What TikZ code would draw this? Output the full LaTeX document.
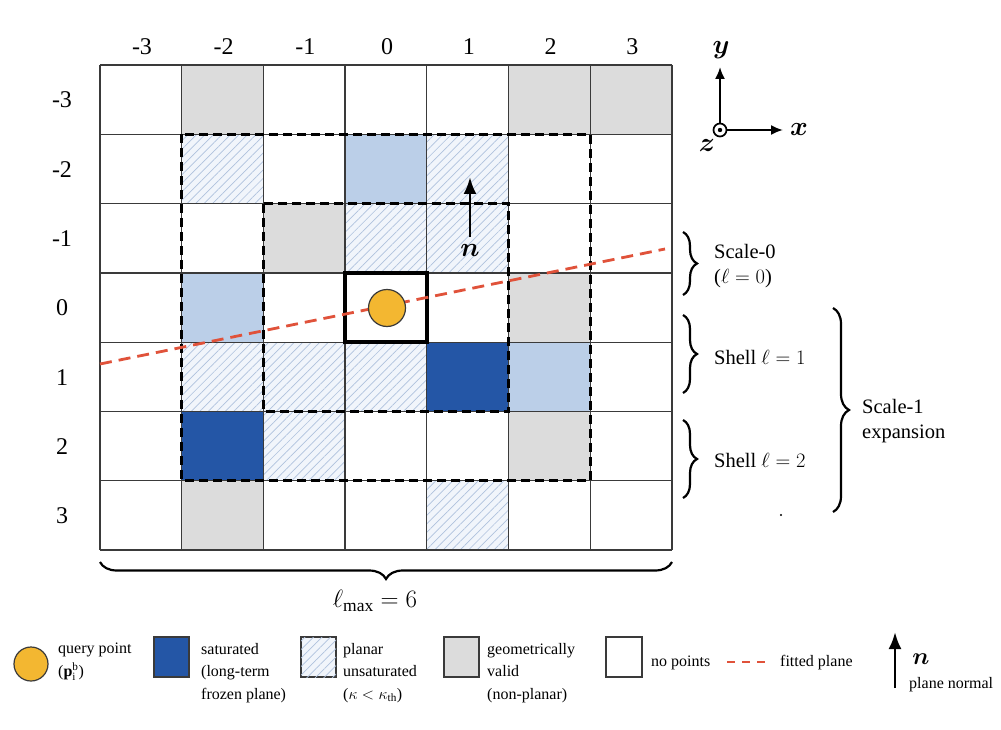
\documentclass[tikz,border=0pt]{standalone}
\usepackage{fix-cm}
\usepackage{amsmath,amssymb}
\usepackage{fontspec}
\setmainfont{Liberation Serif}
\usetikzlibrary{arrows.meta,patterns.meta,decorations.pathreplacing}
\definecolor{validc}{HTML}{DCDCDC}
\definecolor{lightc}{HTML}{BBCFE8}
\definecolor{satc}{HTML}{2456A6}
\definecolor{hatchbg}{HTML}{F1F5FB}
\definecolor{hatchln}{HTML}{AFC2DD}
\definecolor{queryc}{HTML}{F3B731}
\definecolor{fitc}{HTML}{E0523A}
\definecolor{gridc}{HTML}{3A3A3A}
\tikzset{
  hatched/.style={fill=hatchbg, postaction={pattern={Lines[angle=45,distance=6pt,line width=0.7pt]}, pattern color=hatchln}},
  gridline/.style={draw=gridc, line width=1.3pt},
  dashbox/.style={draw=black, line width=2.8pt, dash pattern=on 9pt off 5pt},
  fitline/.style={draw=fitc, line width=2.8pt, dash pattern=on 12pt off 7pt},
  bigtxt/.style={font=\fontsize{24}{28}\selectfont},
  boldtxt/.style={font=\fontsize{27}{30}\selectfont},
  rtxt/.style={font=\fontsize{20.5}{25}\selectfont, align=left, anchor=west, inner sep=0pt},
  legtxt/.style={font=\fontsize{16}{22.5}\selectfont, align=left, anchor=west, inner sep=0pt},
  bracestyle/.style={draw=black, line width=2.2pt, decorate},
  queryball/.style={circle, fill=queryc, draw=gridc, line width=1.2pt, inner sep=0pt},
  arr/.style={-{Latex[length=17pt,width=13pt]}, line width=2.8pt},
  sarr/.style={-{Latex[length=12pt,width=10pt]}, line width=1.9pt},
  legbox/.style={draw=gridc, line width=1.2pt}
}
\begin{document}
\begin{tikzpicture}[x=1pt,y=-1pt]
\useasboundingbox (0,0) rectangle (1001,730);
\fill[white] (0,0) rectangle (1001,730);
% ---------------- grid
\begin{scope}[xshift=100pt,yshift=-65pt,x=81.71pt,y=-69.29pt]
  \foreach \i/\j in {1/0,5/0,6/0,2/2,5/3,5/5,1/6} \fill[validc] (\i,\j) rectangle ++(1,1);
  \foreach \i/\j in {3/1,1/3,5/4} \fill[lightc] (\i,\j) rectangle ++(1,1);
  \foreach \i/\j in {4/4,1/5} \fill[satc] (\i,\j) rectangle ++(1,1);
  \foreach \i/\j in {1/1,4/1,3/2,4/2,1/4,2/4,3/4,2/5,4/6} \path[hatched] (\i,\j) rectangle ++(1,1);
  \foreach \k in {0,...,7} {
    \draw[gridline] (\k,0) -- (\k,7);
    \draw[gridline] (0,\k) -- (7,\k);
  }
  \draw[dashbox] (1,1) rectangle (6,6);
  \draw[dashbox] (2,2) rectangle (5,5);
  \draw[line width=3.8pt] (3,3) rectangle (4,4);
\end{scope}
% ---------------- labels of columns and rows
\foreach \k [count=\c from 0] in {-3,-2,-1,0,1,2,3} {
  \node[bigtxt] (col\c) at ({142+\c*81.71},47) {\k};
  \node[bigtxt] (row\c) at (62,{100+\c*69.29}) {\k};
}
% ---------------- fitted plane and query point
\coordinate (pl) at (100,364);
\coordinate (pr) at (665,249);
\draw[fitline] (pl) -- (pr);
\node[queryball, minimum size=37pt] (q) at (387,308) {};
% ---------------- normal
\coordinate (nb) at (470,237);
\coordinate (nt) at (470,177);
\draw[arr] (nb) -- (nt);
\node[boldtxt] (nlab) at (470,250) {$\boldsymbol{n}$};
% ---------------- axes
\node[circle, draw=black, line width=1.7pt, minimum size=13pt, inner sep=0pt] (o) at (720,130) {};
\fill (o.center) circle (2.2pt);
\coordinate (ay) at (720,67);
\coordinate (ax) at (783,130);
\draw[sarr] (o.north) -- (ay);
\draw[sarr] (o.east) -- (ax);
\node[boldtxt] (ylab) at (721,50) {$\boldsymbol{y}$};
\node[boldtxt] (xlab) at (799,130) {$\boldsymbol{x}$};
\node[boldtxt] (zlab) at (707,146) {$\boldsymbol{z}$};
% ---------------- right braces
\coordinate (b0a) at (683,232); \coordinate (b0b) at (683,295);
\coordinate (b1a) at (683,315); \coordinate (b1b) at (683,393);
\coordinate (b2a) at (683,420); \coordinate (b2b) at (683,498);
\coordinate (b3a) at (833,308); \coordinate (b3b) at (833,512);
\draw[bracestyle, decoration={brace, amplitude=14pt}] (b0a) -- (b0b);
\draw[bracestyle, decoration={brace, amplitude=14pt}] (b1a) -- (b1b);
\draw[bracestyle, decoration={brace, amplitude=14pt}] (b2a) -- (b2b);
\draw[bracestyle, decoration={brace, amplitude=16pt}] (b3a) -- (b3b);
\node[rtxt] (s0) at (714,266) {Scale-0\\($\ell = 0$)};
\node[rtxt] (s1) at (714,357) {Shell $\ell = 1$};
\node[rtxt] (s2) at (714,460) {Shell $\ell = 2$};
\node[rtxt] (s3) at (862,421) {Scale-1\\expansion};
\fill (781,515) circle (1.1pt);
% ---------------- bottom brace
\coordinate (bba) at (672,562); \coordinate (bbb) at (100,562);
\draw[bracestyle, decoration={brace, amplitude=17pt}] (bba) -- (bbb);
\node[font=\fontsize{25}{28}\selectfont] (lmax) at (375,601) {$\ell_{\max} = 6$};
% ---------------- legend
\node[queryball, minimum size=34pt] (lq) at (31,664) {};
\node[legtxt] (lqt) at (58,662) {query point\\($\mathbf{p}_{\mathrm{i}}^{\mathrm{b}}$)};
\path[legbox, fill=satc] (154,637) rectangle (189,677);
\node[legtxt] (lst) at (201,673) {saturated\\(long-term\\frozen plane)};
\path[legbox, hatched] (301,637) rectangle (336,677);
\node[legtxt] (lht) at (343,673) {planar\\unsaturated\\($\kappa < \kappa_{\mathrm{th}}$)};
\path[legbox, fill=validc] (444,637) rectangle (479,677);
\node[legtxt] (lgt) at (487,673) {geometrically\\valid\\(non-planar)};
\path[legbox, fill=white] (606,637) rectangle (642,677);
\node[legtxt] (lwt) at (651,663) {no points};
\coordinate (lfa) at (727,662); \coordinate (lfb) at (767,662);
\draw[fitline, dash pattern=on 8pt off 7pt] (lfa) -- (lfb);
\node[legtxt] (lft) at (780,663) {fitted plane};
\coordinate (lna) at (895,688); \coordinate (lnb) at (895,632);
\draw[arr] (lna) -- (lnb);
\node[font=\fontsize{24}{28}\selectfont] (lnn) at (921,659) {$\boldsymbol{n}$};
\node[legtxt] (lnt) at (909,685) {plane normal};
\end{tikzpicture}
\end{document}
